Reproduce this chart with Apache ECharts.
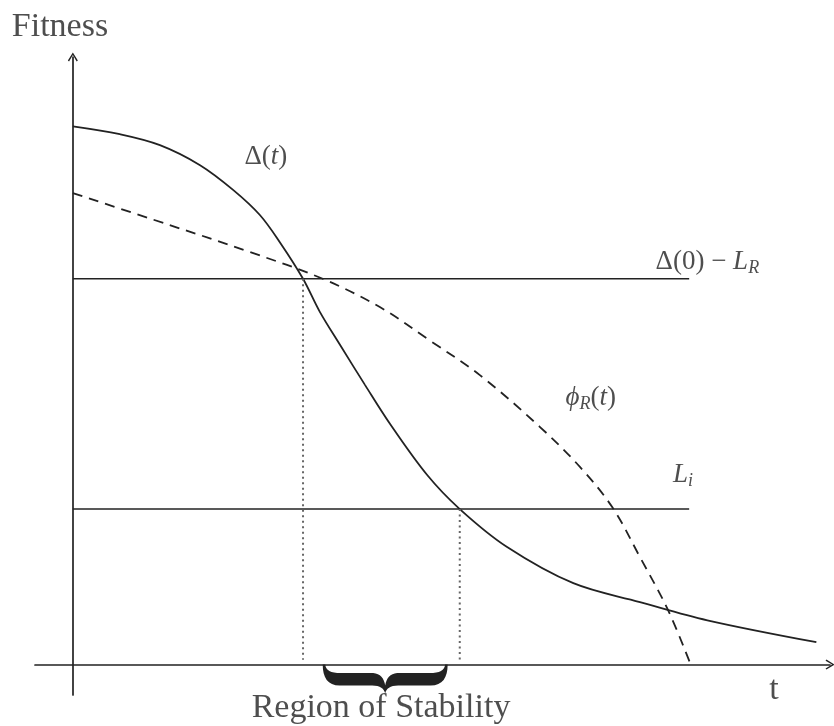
<!DOCTYPE html>
<html>
<head>
<meta charset="utf-8">
<script src="https://cdn.jsdelivr.net/npm/echarts@6/dist/echarts.min.js"></script>
<style>
  html, body { margin: 0; padding: 0; background: #fff; }
  #chart { width: 834px; height: 726px; }
</style>
</head>
<body>
<div id="chart"></div>
<script>
// Δ(t): solid fitness curve
const deltaT   = [0, 0.62, 1.15, 1.68, 2.12, 2.47, 2.74, 3.04, 3.26, 3.53, 3.86, 4.19, 4.68, 5.11, 5.73, 6.61, 7.49, 8.38, 9.82];
const deltaFit = [8.86, 8.73, 8.55, 8.22, 7.81, 7.40, 6.94, 6.35, 5.81, 5.26, 4.60, 3.96, 3.12, 2.56, 1.94, 1.34, 1.03, 0.73, 0.37];

// φ_R(t): dashed curve
const phiT   = [0, 1.24, 2.34, 3.30, 4.06, 4.72, 5.38, 6.17, 6.70, 7.13, 7.49, 7.86, 8.16];
const phiFit = [7.76, 7.25, 6.79, 6.35, 5.88, 5.33, 4.76, 3.91, 3.25, 2.58, 1.77, 0.90, 0];

// horizontal thresholds: Δ(0) − L_R and L_i
const levelUpper = 6.35;
const levelLower = 2.56;
const levelEndT = 8.14;

// where Δ(t) meets each threshold
const crossUpperT = 3.04;
const crossLowerT = 5.11;
const dropEnd = 0.08;

// span marked by the brace
const braceSpan = [3.30, 4.95];

// axis ranges
const tRange = [-0.5, 10];
const fitRange = [-0.5, 10];

const ink = '#222';
const serif = 'Liberation Serif';

const zip = (xs, ys) => xs.map((x, i) => [x, ys[i]]);

const arrowHead = 'path://M5,0 L10,8 L8.8,8.9 L5,2.4 L1.2,8.9 L0,8 Z';

const axisCommon = {
  type: 'value',
  axisTick: { show: false },
  axisLabel: { show: false },
  splitLine: { show: false },
  axisLine: {
    show: true,
    onZero: true,
    symbol: ['none', arrowHead],
    symbolSize: [10, 9],
    lineStyle: { color: ink, width: 1.7 }
  }
};

const rich = {
  up:   { fontFamily: serif, fontSize: 27, color: ink, lineHeight: 30 },
  it:   { fontFamily: serif, fontSize: 27, color: ink, fontStyle: 'italic', lineHeight: 30 },
  sub:  { fontFamily: serif, fontSize: 18, color: ink, fontStyle: 'italic', lineHeight: 16, verticalAlign: 'bottom' },
  big:  { fontFamily: serif, fontSize: 34, color: ink, lineHeight: 36 }
};

// text annotations, anchored in data space
const labelTexts = [
  '{big|Fitness}',
  '{up|Δ(}{it|t}{up|)}',
  '{up|Δ(0) − }{it|L}{sub|R}',
  '{it|ϕ}{sub|R}{up|(}{it|t}{up|)}',
  '{it|L}{sub|i}',
  '{big|t}',
  '{big|Region of Stability}'
];
const labelT   = [-0.17, 2.55, 8.38, 6.84, 8.06, 9.26, 4.07];
const labelFit = [10.50, 8.35, 6.62, 4.39, 3.12, -0.42, -0.72];

const chart = echarts.init(document.getElementById('chart'), null, { renderer: 'canvas' });

chart.setOption({
  backgroundColor: '#fff',
  animation: false,
  grid: { left: 35, right: 4, top: 57, bottom: 31 },
  xAxis: Object.assign({}, axisCommon, { min: tRange[0], max: tRange[1] }),
  yAxis: Object.assign({}, axisCommon, { min: fitRange[0], max: fitRange[1] }),
  series: [
    {
      name: 'Δ(t)',
      type: 'line',
      data: zip(deltaT, deltaFit),
      smooth: 0.35,
      showSymbol: false,
      lineStyle: { color: ink, width: 1.8 }
    },
    {
      name: 'φR(t)',
      type: 'line',
      data: zip(phiT, phiFit),
      smooth: 0.35,
      showSymbol: false,
      lineStyle: { color: ink, width: 1.8, type: [10, 7] }
    },
    {
      name: 'upper level',
      type: 'line',
      data: [[0, levelUpper], [levelEndT, levelUpper]],
      showSymbol: false,
      lineStyle: { color: ink, width: 1.6 }
    },
    {
      name: 'lower level',
      type: 'line',
      data: [[0, levelLower], [levelEndT, levelLower]],
      showSymbol: false,
      lineStyle: { color: ink, width: 1.6 }
    },
    {
      name: 'drop upper',
      type: 'line',
      data: [[crossUpperT, levelUpper], [crossUpperT, dropEnd]],
      showSymbol: false,
      lineStyle: { color: '#666', width: 2, type: [2, 3.5] }
    },
    {
      name: 'drop lower',
      type: 'line',
      data: [[crossLowerT, levelLower], [crossLowerT, dropEnd]],
      showSymbol: false,
      lineStyle: { color: '#666', width: 2, type: [2, 3.5] }
    },
    {
      name: 'brace',
      type: 'custom',
      data: [braceSpan],
      renderItem: function (params, api) {
        const a = api.coord([api.value(0), 0]);
        const b = api.coord([api.value(1), 0]);
        const w = b[0] - a[0];
        const m = w / 2;
        const d = [
          'M0,0',
          'C0,13 5,21 17,21',
          'L' + (m - 13) + ',21',
          'C' + (m - 5) + ',21 ' + (m - 1) + ',24 ' + m + ',29',
          'C' + (m + 1) + ',24 ' + (m + 5) + ',21 ' + (m + 13) + ',21',
          'L' + (w - 17) + ',21',
          'C' + (w - 5) + ',21 ' + w + ',13 ' + w + ',0',
          'L' + (w - 2.5) + ',0',
          'C' + (w - 3) + ',6 ' + (w - 8) + ',8.5 ' + (w - 18) + ',8.5',
          'L' + (m + 12) + ',8.5',
          'C' + (m + 5) + ',9 ' + (m + 1) + ',14 ' + m + ',21',
          'C' + (m - 1) + ',14 ' + (m - 5) + ',9 ' + (m - 12) + ',8.5',
          'L18,8.5',
          'C8,8.5 3,6 2.5,0',
          'Z'
        ].join(' ');
        return {
          type: 'path',
          shape: { pathData: d, x: a[0], y: a[1], width: w, height: 29, layout: 'cover' },
          style: { fill: ink }
        };
      }
    },
    {
      name: 'labels',
      type: 'scatter',
      symbolSize: 0,
      clip: false,
      silent: true,
      data: labelTexts.map((txt, i) => ({
        value: [labelT[i], labelFit[i]],
        label: {
          show: true,
          position: 'inside',
          formatter: txt,
          rich: rich
        }
      }))
    }
  ]
});
</script>
</body>
</html>
